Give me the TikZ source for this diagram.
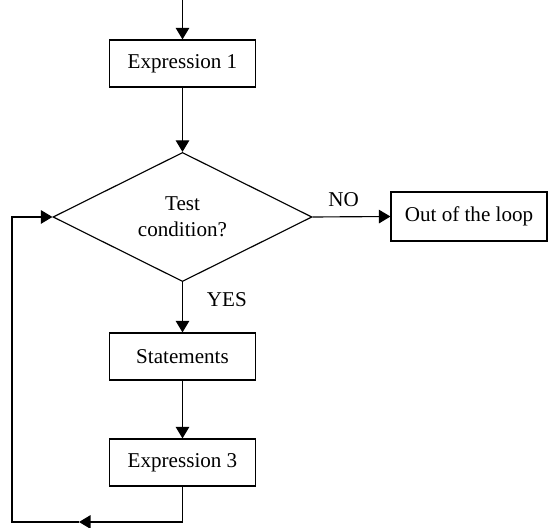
\documentclass[tikz,border=0pt]{standalone}
\usepackage{fontspec}
\setmainfont{Liberation Serif}
\usetikzlibrary{arrows.meta,shapes.geometric,positioning}

\begin{document}
\begin{tikzpicture}[
  font=\fontsize{12}{14.8}\selectfont,
  line width=0.65pt,
  flow/.style={-{Triangle[length=0.23cm,width=0.27cm]}},
  procbox/.style={draw,rectangle,minimum width=2.92cm,minimum height=0.94cm,inner sep=0pt},
  decision/.style={draw,diamond,minimum width=5.18cm,minimum height=2.56cm,inner sep=0pt,align=center}]
\useasboundingbox (0,0) rectangle (10.96,10.56);
\coordinate (entry) at (3.65,10.56);
\node[procbox] (e1)   at (3.65,9.29) {Expression 1};
\node[decision] (test) at (3.65,6.22) {Test\\condition?};
\node[procbox,minimum width=3.12cm,minimum height=0.98cm] (out) at (9.38,6.23) {Out of the loop};
\node[procbox] (stmt) at (3.65,3.43) {Statements};
\node[procbox] (e3)   at (3.65,1.31) {Expression 3};
\coordinate (back) at (1.58,0.12);
\coordinate (corner) at (0.24,0.12);
% main path
\draw[flow] (entry) -- (e1);
\draw[flow] (e1) -- (test);
\draw[flow] (test.east) -- (out.west)
  node[pos=0.4,above=2pt]{NO};
\draw[flow] (test.south) -- (stmt.north)
  node[pos=0.35,right=0.36cm]{YES};
\draw[flow] (stmt) -- (e3);
% loop back
\draw[flow] (e3.south) |- (back);
\draw[flow] (back) -- (corner) |- (test.west);
\end{tikzpicture}
\end{document}
